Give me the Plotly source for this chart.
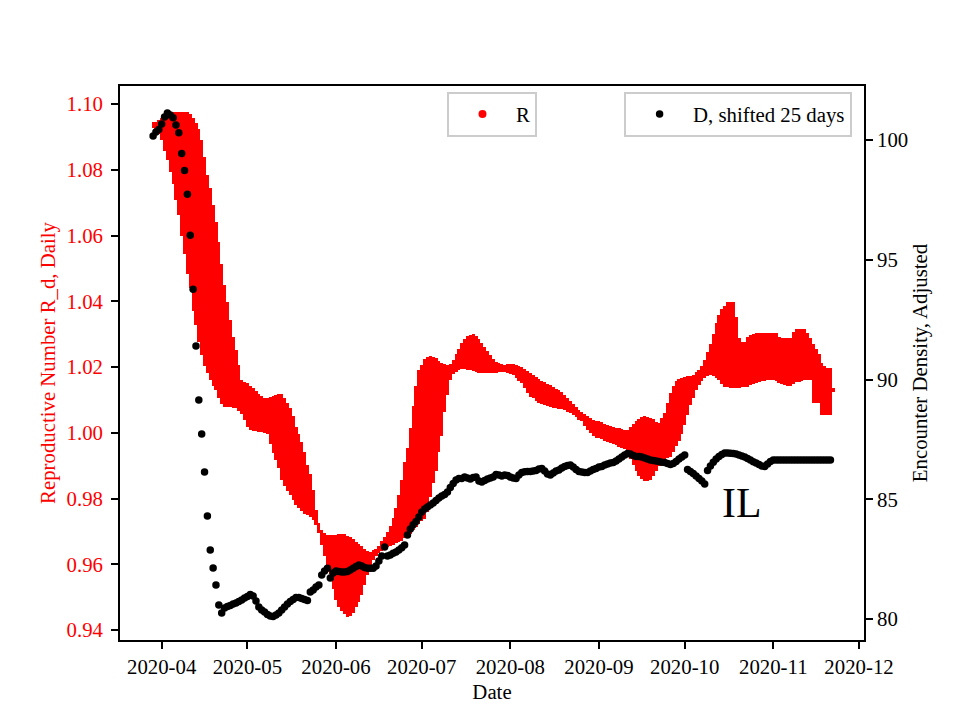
import pandas as pd
import plotly.graph_objects as go

# ---------------- data ----------------
START_DATE = "2020-03-29"

# daily lower / upper extent of the R estimates (left axis)
R_LOW = [
    1.0926, 1.0924, 1.0909, 1.0891, 1.0857, 1.0830, 1.0793, 1.0757, 1.0708, 1.0662,
    1.0598, 1.0544, 1.0483, 1.0440, 1.0370, 1.0328, 1.0276, 1.0236, 1.0203, 1.0182,
    1.0160, 1.0142, 1.0130, 1.0106, 1.0088, 1.0078, 1.0078, 1.0077, 1.0075, 1.0075,
    1.0066, 1.0057, 1.0039, 1.0018, 1.0008, 1.0005, 1.0004, 1.0002, 1.0001, 0.9999,
    0.9996, 0.9966, 0.9938, 0.9917, 0.9893, 0.9856, 0.9838, 0.9823, 0.9810, 0.9795,
    0.9780, 0.9771, 0.9762, 0.9754, 0.9750, 0.9744, 0.9735, 0.9719, 0.9695, 0.9658,
    0.9625, 0.9598, 0.9570, 0.9525, 0.9491, 0.9470, 0.9458, 0.9449, 0.9440, 0.9443,
    0.9452, 0.9470, 0.9485, 0.9507, 0.9537, 0.9567, 0.9595, 0.9613, 0.9625, 0.9634,
    0.9640, 0.9646, 0.9652, 0.9655, 0.9659, 0.9665, 0.9668, 0.9671, 0.9680, 0.9686,
    0.9692, 0.9704, 0.9713, 0.9722, 0.9731, 0.9737, 0.9759, 0.9805, 0.9847, 0.9884,
    0.9941, 0.9990, 1.0063, 1.0115, 1.0161, 1.0179, 1.0186, 1.0191, 1.0193, 1.0193,
    1.0191, 1.0191, 1.0188, 1.0185, 1.0183, 1.0183, 1.0183, 1.0183, 1.0183, 1.0183,
    1.0183, 1.0185, 1.0186, 1.0185, 1.0182, 1.0179, 1.0176, 1.0166, 1.0157, 1.0151,
    1.0136, 1.0121, 1.0109, 1.0106, 1.0098, 1.0092, 1.0087, 1.0084, 1.0081, 1.0078,
    1.0075, 1.0074, 1.0072, 1.0071, 1.0068, 1.0063, 1.0060, 1.0054, 1.0048, 1.0040,
    1.0036, 1.0020, 1.0008, 0.9998, 0.9989, 0.9984, 0.9983, 0.9980, 0.9975, 0.9972,
    0.9968, 0.9965, 0.9962, 0.9958, 0.9955, 0.9951, 0.9942, 0.9920, 0.9902, 0.9884,
    0.9869, 0.9859, 0.9852, 0.9853, 0.9856, 0.9869, 0.9884, 0.9899, 0.9911, 0.9917,
    0.9922, 0.9926, 0.9942, 0.9960, 0.9975, 0.9997, 1.0024, 1.0054, 1.0083, 1.0106,
    1.0130, 1.0145, 1.0156, 1.0168, 1.0172, 1.0175, 1.0174, 1.0167, 1.0161, 1.0148,
    1.0140, 1.0138, 1.0137, 1.0135, 1.0136, 1.0137, 1.0138, 1.0138, 1.0140, 1.0144,
    1.0147, 1.0151, 1.0154, 1.0156, 1.0157, 1.0159, 1.0161, 1.0161, 1.0156, 1.0151,
    1.0147, 1.0144, 1.0142, 1.0141, 1.0148, 1.0153, 1.0154, 1.0157, 1.0159, 1.0161,
    1.0161, 1.0090, 1.0090, 1.0090, 1.0054, 1.0054, 1.0054, 1.0054, 1.0125,
]
R_HIGH = [
    1.0946, 1.0945, 1.0951, 1.0957, 1.0962, 1.0967, 1.0973, 1.0976, 1.0977, 1.0977,
    1.0977, 1.0977, 1.0977, 1.0970, 1.0957, 1.0942, 1.0924, 1.0891, 1.0839, 1.0784,
    1.0745, 1.0693, 1.0641, 1.0580, 1.0513, 1.0450, 1.0398, 1.0343, 1.0291, 1.0252,
    1.0206, 1.0160, 1.0154, 1.0150, 1.0142, 1.0136, 1.0127, 1.0118, 1.0112, 1.0106,
    1.0106, 1.0109, 1.0113, 1.0115, 1.0118, 1.0118, 1.0106, 1.0090, 1.0075, 1.0051,
    1.0017, 0.9996, 0.9972, 0.9942, 0.9902, 0.9875, 0.9826, 0.9765, 0.9726, 0.9704,
    0.9694, 0.9689, 0.9689, 0.9689, 0.9690, 0.9692, 0.9692, 0.9692, 0.9687, 0.9683,
    0.9677, 0.9669, 0.9662, 0.9655, 0.9645, 0.9640, 0.9638, 0.9642, 0.9646, 0.9655,
    0.9671, 0.9683, 0.9698, 0.9716, 0.9741, 0.9771, 0.9811, 0.9857, 0.9911, 0.9954,
    1.0015, 1.0081, 1.0142, 1.0191, 1.0206, 1.0224, 1.0230, 1.0233, 1.0230, 1.0227,
    1.0218, 1.0212, 1.0209, 1.0206, 1.0209, 1.0221, 1.0240, 1.0255, 1.0273, 1.0285,
    1.0293, 1.0297, 1.0300, 1.0294, 1.0285, 1.0273, 1.0261, 1.0249, 1.0236, 1.0224,
    1.0215, 1.0211, 1.0208, 1.0206, 1.0208, 1.0209, 1.0209, 1.0206, 1.0203, 1.0201,
    1.0194, 1.0188, 1.0182, 1.0176, 1.0170, 1.0164, 1.0157, 1.0153, 1.0148, 1.0145,
    1.0139, 1.0133, 1.0129, 1.0124, 1.0115, 1.0106, 1.0097, 1.0087, 1.0078, 1.0068,
    1.0062, 1.0056, 1.0050, 1.0044, 1.0040, 1.0037, 1.0035, 1.0032, 1.0028, 1.0024,
    1.0021, 1.0019, 1.0016, 1.0013, 1.0010, 1.0008, 1.0008, 1.0018, 1.0028, 1.0036,
    1.0042, 1.0048, 1.0051, 1.0048, 1.0045, 1.0042, 1.0033, 1.0030, 1.0045, 1.0059,
    1.0090, 1.0121, 1.0142, 1.0158, 1.0165, 1.0168, 1.0170, 1.0173, 1.0174, 1.0176,
    1.0185, 1.0192, 1.0203, 1.0221, 1.0245, 1.0270, 1.0301, 1.0334, 1.0358, 1.0376,
    1.0387, 1.0398, 1.0399, 1.0399, 1.0352, 1.0288, 1.0277, 1.0277, 1.0292, 1.0297,
    1.0300, 1.0302, 1.0302, 1.0302, 1.0302, 1.0302, 1.0302, 1.0302, 1.0302, 1.0291,
    1.0287, 1.0287, 1.0287, 1.0288, 1.0306, 1.0317, 1.0317, 1.0317, 1.0317, 1.0303,
    1.0287, 1.0270, 1.0255, 1.0240, 1.0212, 1.0203, 1.0196, 1.0196, 1.0135,
]

# encounter density, shifted 25 days (right axis)
D_VALUES = [
    100.17, 100.33, 100.44, 100.67, 100.96, 101.13, 101.04, 100.93, 100.63, 100.30,
    99.44, 98.73, 97.73, 96.02, 93.77, 91.40, 89.14, 87.72, 86.14, 84.30,
    82.88, 82.13, 81.42, 80.58, 80.25, 80.46, 80.52, 80.56, 80.63, 80.67,
    80.73, 80.79, 80.88, 80.94, 81.02, 80.96, 80.75, 80.50, 80.38, 80.29,
    80.19, 80.12, 80.10, 80.17, 80.25, 80.38, 80.50, 80.63, 80.73, 80.81,
    80.90, 80.90, 80.86, 80.81, 80.77, 81.13, 81.21, 81.34, 81.42, 81.84,
    82.00, 82.12, 81.71, 81.92, 82.00, 81.98, 81.96, 81.96, 81.98, 82.05,
    82.12, 82.19, 82.25, 82.21, 82.15, 82.12, 82.12, 82.12, 82.21, 82.42,
    82.63, 83.01, 82.63, 82.67, 82.75, 82.80, 82.88, 82.98, 83.09, 83.51,
    83.76, 83.93, 84.07, 84.26, 84.47, 84.59, 84.68, 84.76, 84.84, 84.95,
    85.05, 85.14, 85.20, 85.30, 85.49, 85.66, 85.80, 85.87, 85.87, 85.93,
    85.89, 85.85, 85.91, 85.93, 85.76, 85.72, 85.78, 85.85, 85.89, 85.93,
    86.03, 86.01, 85.97, 86.01, 85.99, 85.93, 85.89, 85.87, 86.01, 86.12,
    86.15, 86.16, 86.16, 86.18, 86.20, 86.26, 86.28, 86.18, 86.05, 86.01,
    86.10, 86.18, 86.22, 86.30, 86.37, 86.41, 86.43, 86.35, 86.24, 86.16,
    86.14, 86.12, 86.12, 86.18, 86.24, 86.28, 86.35, 86.37, 86.43, 86.47,
    86.51, 86.53, 86.60, 86.68, 86.76, 86.85, 86.91, 86.89, 86.83, 86.78,
    86.78, 86.76, 86.72, 86.68, 86.64, 86.62, 86.60, 86.58, 86.55, 86.53,
    86.49, 86.45, 86.49, 86.58, 86.68, 86.76, 86.85, 86.24, 86.16, 86.07,
    85.97, 85.87, 85.76, 85.64, 86.20, 86.39, 86.55, 86.68, 86.78, 86.87,
    86.93, 86.93, 86.92, 86.91, 86.89, 86.85, 86.81, 86.76, 86.70, 86.64,
    86.57, 86.51, 86.45, 86.39, 86.37, 86.47, 86.58, 86.64, 86.64, 86.64,
    86.64, 86.64, 86.64, 86.64, 86.64, 86.64, 86.64, 86.64, 86.64, 86.64,
    86.64, 86.64, 86.64, 86.64, 86.64, 86.64, 86.64, 86.64,
]

LEFT_TICKS = [0.94, 0.96, 0.98, 1.00, 1.02, 1.04, 1.06, 1.08, 1.10]
RIGHT_TICKS = [80, 85, 90, 95, 100]
X_RANGE = ["2020-03-17 10:05", "2020-12-02 17:45"]
LEFT_RANGE = [0.93696, 1.10548]
RIGHT_RANGE = [79.123, 102.255]

# ---------------- figure ----------------
FONT = "Liberation Serif"
FS = 20.8
DAY_MS = 86400000

dates_r = pd.date_range(START_DATE, periods=len(R_LOW), freq="D")
dates_d = pd.date_range(START_DATE, periods=len(D_VALUES), freq="D")
heights = [h - l for l, h in zip(R_LOW, R_HIGH)]

fig = go.Figure()
fig.add_trace(go.Bar(
    x=dates_r, y=heights, base=R_LOW, width=DAY_MS * 1.08,
    marker=dict(color="#ff0000", line=dict(width=0)),
    showlegend=False, hoverinfo="skip", yaxis="y",
))
fig.add_trace(go.Scatter(
    x=[None], y=[None], mode="markers", name="R",
    marker=dict(color="#ff0000", size=8), legend="legend", yaxis="y",
))
fig.add_trace(go.Scatter(
    x=dates_d, y=D_VALUES, mode="markers", name="D, shifted 25 days",
    marker=dict(color="black", size=7.5, line=dict(width=0)),
    legend="legend2", yaxis="y2",
))

axis_common = dict(
    showline=True, linecolor="black", linewidth=1.67,
    ticks="outside", ticklen=7, tickwidth=1.67, tickcolor="black",
    showgrid=False, zeroline=False,
)

legend_common = dict(
    y=0.989, yanchor="top", itemwidth=57,
    bgcolor="white", bordercolor="#cccccc", borderwidth=2,
    font=dict(family=FONT, size=FS, color="black"),
)

fig.update_layout(
    width=944, height=704,
    margin=dict(l=112, r=88, t=78, b=72, autoexpand=False),
    paper_bgcolor="white", plot_bgcolor="white",
    font=dict(family=FONT, size=FS, color="black"),
    bargap=0,
    xaxis=dict(
        type="date", range=X_RANGE, mirror=True,
        tickformat="%Y-%m", dtick="M1", tick0="2020-04-01",
        title=dict(text="Date", standoff=8, font=dict(family=FONT, size=FS)),
        tickfont=dict(family=FONT, size=FS, color="black"),
        **axis_common,
    ),
    yaxis=dict(
        range=LEFT_RANGE, mirror=True,
        tickvals=LEFT_TICKS, ticktext=[f"{v:.2f}" for v in LEFT_TICKS],
        tickfont=dict(family=FONT, size=FS, color="#ff0000"),
        ticklabelstandoff=4,
        title=dict(text="Reproductive Number R_d, Daily", standoff=5,
                   font=dict(family=FONT, size=FS, color="#ff0000")),
        **axis_common,
    ),
    yaxis2=dict(
        range=RIGHT_RANGE, overlaying="y", side="right",
        tickvals=RIGHT_TICKS, ticktext=[str(v) for v in RIGHT_TICKS],
        tickfont=dict(family=FONT, size=FS, color="black"),
        title=dict(text="Encounter Density, Adjusted", standoff=5,
                   font=dict(family=FONT, size=FS, color="black")),
        **axis_common,
    ),
    legend=dict(x=0.4395, xanchor="left", **legend_common),
    legend2=dict(x=0.984, xanchor="right", **legend_common),
    annotations=[dict(
        text="IL", xref="paper", yref="paper", x=0.8347, y=0.2473,
        xanchor="center", yanchor="middle", showarrow=False,
        font=dict(family=FONT, size=41.7, color="black"),
    )],
)

fig.write_html("out.html")
